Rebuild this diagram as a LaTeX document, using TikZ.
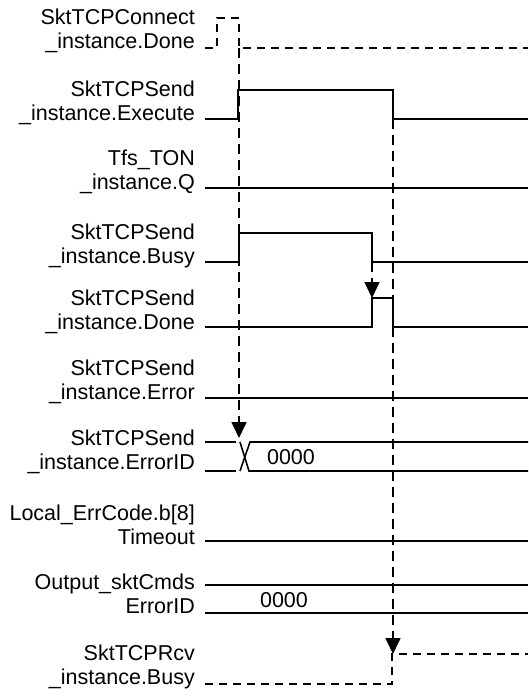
\documentclass[tikz,border=0pt]{standalone}
\usepackage{fontspec}
\setmainfont{Liberation Sans}
\usetikzlibrary{arrows.meta}
\begin{document}
\begin{tikzpicture}[x=1pt,y=-1pt,
  lbl/.style={anchor=east,align=right,inner sep=0pt,font=\fontsize{21.5}{24.5}\selectfont},
  val/.style={inner sep=0pt,font=\fontsize{21.5}{24.5}\selectfont},
  sig/.style={line width=1.6pt},
  dsig/.style={line width=1.6pt,dash pattern=on 8pt off 6pt},
  darr/.style={line width=1.6pt,dash pattern=on 10pt off 6pt,-{Triangle[length=16pt,width=15pt]}}]
\useasboundingbox (0,0) rectangle (528,696);
% labels
\node[lbl] (l1) at (195,31) {SktTCPConnect\\\_instance.Done};
\node[lbl] (l2) at (195,103) {SktTCPSend\\\_instance.Execute};
\node[lbl] (l3) at (195,172) {Tfs\_TON\\\_instance.Q};
\node[lbl] (l4) at (195,246) {SktTCPSend\\\_instance.Busy};
\node[lbl] (l5) at (195,312) {SktTCPSend\\\_instance.Done};
\node[lbl] (l6) at (195,382) {SktTCPSend\\\_instance.Error};
\node[lbl] (l7) at (195,452) {SktTCPSend\\\_instance.ErrorID};
\node[lbl] (l8) at (195,525) {Local\_ErrCode.b[8]\\Timeout};
\node[lbl] (l9) at (195,594) {Output\_sktCmds\\ErrorID};
\node[lbl] (l10) at (195,667) {SktTCPRcv\\\_instance.Busy};
% values
\node[val] (v1) at (291,457) {0000};
\node[val] (v2) at (284,600) {0000};
% coordinates for arrows
\coordinate (a1s) at (239,48);
\coordinate (a1e) at (239,438);
\coordinate (a2s) at (393,119);
\coordinate (a2e) at (393,654);
\coordinate (a3s) at (372,262);
\coordinate (a3e) at (372,298);
% SktTCPConnect Done
\draw[dsig] (205,48) -- (217,48) -- (217,18) -- (239,18) -- (239,48) -- (528,48);
% Execute
\draw[sig] (205,119) -- (238,119) -- (238,90) -- (393,90) -- (393,119) -- (528,119);
% Tfs_TON Q
\draw[sig] (205,188) -- (528,188);
% Busy
\draw[sig] (205,262) -- (239,262) -- (239,233) -- (372,233) -- (372,262) -- (528,262);
% Done
\draw[sig] (205,327) -- (372,327) -- (372,298) -- (393,298) -- (393,327) -- (528,327);
% Error
\draw[sig] (205,398) -- (528,398);
% ErrorID
\draw[sig] (205,442) -- (236,442);
\draw[sig] (205,471) -- (236,471);
\draw[sig] (240,442) -- (249,471) -- (528,471);
\draw[sig] (240,471) -- (250,442) -- (528,442);
% Timeout
\draw[sig] (205,541) -- (528,541);
% Output ErrorID
\draw[sig] (205,585) -- (528,585);
\draw[sig] (205,613) -- (528,613);
% Rcv Busy
\draw[dsig] (205,684) -- (392,684) -- (392,654) -- (528,654);
% arrows
\draw[darr] (a1s) -- (a1e);
\draw[darr] (a2s) -- (a2e);
\draw[darr] (a3s) -- (a3e);
\end{tikzpicture}
\end{document}
